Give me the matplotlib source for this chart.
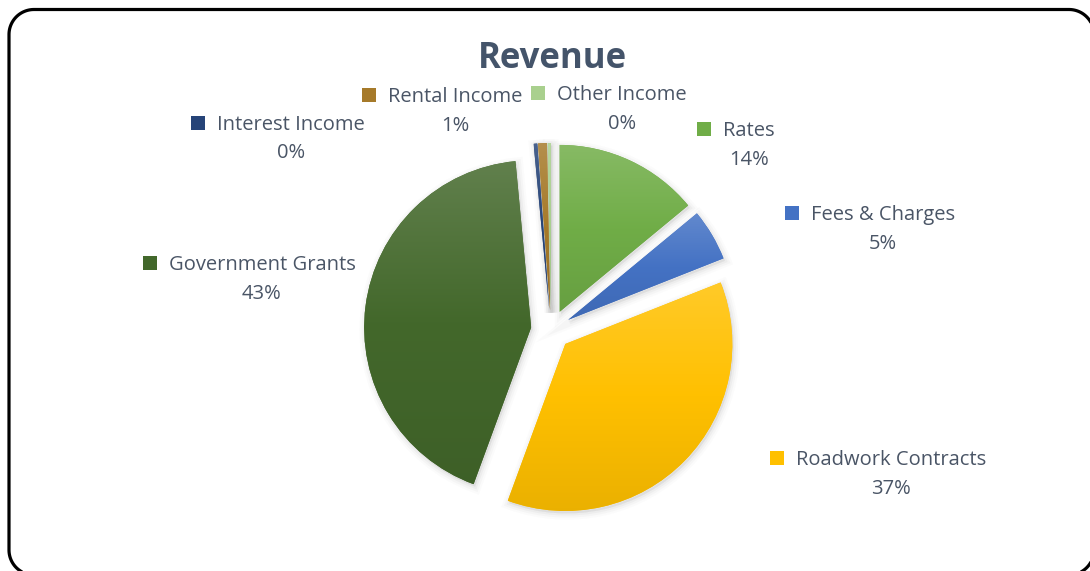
import numpy as np
import matplotlib
matplotlib.use("Agg")
import matplotlib.pyplot as plt
from matplotlib.patches import Rectangle, Wedge, PathPatch
from matplotlib.path import Path
from matplotlib.colors import to_rgb

# ---- data ----
title = "Revenue"
categories = ["Rates", "Fees & Charges", "Roadwork Contracts", "Government Grants",
              "Interest Income", "Rental Income", "Other Income"]
shares = [14.0, 5.0, 36.6, 42.9, 0.35, 0.85, 0.3]
colors = ["#70AD47", "#4472C4", "#FFC000", "#43682B", "#264478", "#A67A2A", "#A9D08E"]

# ---- layout (pixel coordinates of the 1090x571 canvas, y measured from top) ----
W, H = 1090, 571
def Y(y):
    return H - y

label_text_cx = [749, 883, 891, 262, 291, 455, 622]
label_base_y = [136, 220, 465, 270, 129.5, 101.7, 100]
pct_gap = 29

text_color = "#4A5566"
title_color = "#44546A"
plt.rcParams['font.family'] = ['Open Sans', 'DejaVu Sans']

fig = plt.figure(figsize=(W / 100, H / 100), dpi=100)
ax = fig.add_axes([0, 0, 1, 1])

center = (551, Y(330))
radius = 167
explode = [20] * len(shares)

wedges, _ = ax.pie(shares, colors=colors, startangle=90, counterclock=False,
                   explode=explode, radius=radius, center=center,
                   wedgeprops=dict(linewidth=0), frame=True)

def mix(c, other, t):
    c = np.array(to_rgb(c)); o = np.array(to_rgb(other))
    return c * (1 - t) + o * t

# soft shadow
for w in wedges:
    for lw, a in [(9, 0.025), (6, 0.035), (3, 0.05)]:
        sh = Wedge((w.center[0] + 1.5, w.center[1] - 2.5), w.r, w.theta1, w.theta2,
                   facecolor=(0.4, 0.4, 0.4, a), edgecolor=(0.4, 0.4, 0.4, a),
                   linewidth=lw, zorder=0.5)
        ax.add_patch(sh)

# gradient fills clipped to each wedge
for w, c in zip(wedges, colors):
    w.set_zorder(1)
    ext = w.get_path().get_extents(w.get_patch_transform())
    x0, y0, x1, y1 = ext.x0, ext.y0, ext.x1, ext.y1
    n = 256
    t = np.linspace(0, 1, n)  # 0 = top, 1 = bottom
    top = mix(c, "white", 0.16)
    bot = mix(c, "black", 0.08)
    base = np.array(to_rgb(c))
    grad = np.zeros((n, 1, 3))
    for i, tv in enumerate(t):
        if tv < 0.5:
            grad[i, 0] = top * (1 - tv / 0.5) + base * (tv / 0.5)
        else:
            grad[i, 0] = base * (1 - (tv - 0.5) / 0.5) + bot * ((tv - 0.5) / 0.5)
    im = ax.imshow(grad, extent=[x0, x1, y0, y1], origin='upper', aspect='auto',
                   zorder=1.5, interpolation='bilinear')
    im.set_clip_path(w)

# title
ax.text(552, Y(68.5), title, ha='center', va='baseline', fontsize=25,
        fontweight='bold', color=title_color)

# labels
total = sum(shares)
texts = []
for cat, v, cx, by in zip(categories, shares, label_text_cx, label_base_y):
    t1 = ax.text(cx, Y(by), cat, ha='center', va='baseline', fontsize=14.5, color=text_color)
    ax.text(cx, Y(by + pct_gap), f"{round(v / total * 100):.0f}%", ha='center',
            va='baseline', fontsize=14.5, color=text_color)
    texts.append(t1)

ax.set_xlim(0, W)
ax.set_ylim(0, H)
ax.set_aspect('auto')
ax.axis('off')

fig.canvas.draw()
renderer = fig.canvas.get_renderer()
for t1, c, by in zip(texts, colors, label_base_y):
    bb = t1.get_window_extent(renderer)
    ax.add_patch(Rectangle((bb.x0 - 26, Y(by)), 14, 14, facecolor=c, edgecolor='none'))

# rounded border as a sampled polyline
bx0, bx1 = 9, 1094
by_top, by_bot = Y(9.5), Y(575)
r = 25
pts = []
def arc(cx, cy, a0, a1):
    for a in np.linspace(np.radians(a0), np.radians(a1), 30):
        pts.append((cx + r * np.cos(a), cy + r * np.sin(a)))
arc(bx1 - r, by_top - r, 0, 90)
arc(bx0 + r, by_top - r, 90, 180)
arc(bx0 + r, by_bot + r, 180, 270)
arc(bx1 - r, by_bot + r, 270, 360)
pts.append(pts[0])
ax.add_patch(PathPatch(Path(np.array(pts)), facecolor='none', edgecolor='black',
                       linewidth=2.3, zorder=5, clip_on=False))

fig.savefig("out.png", dpi=100)
